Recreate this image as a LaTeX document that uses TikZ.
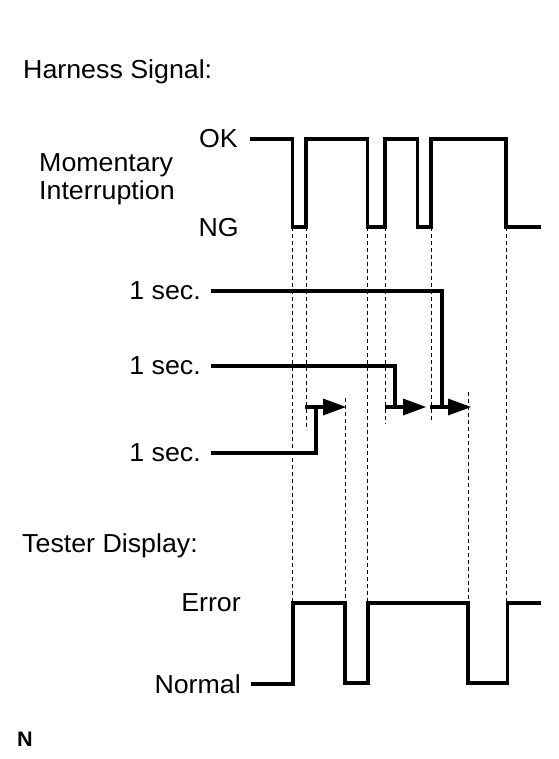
\documentclass[tikz,border=0pt]{standalone}
\usepackage{fontspec}
\setmainfont{Liberation Sans}[FakeStretch=1.03]
\usepackage{tikz}
\usetikzlibrary{arrows.meta,positioning}
\newcommand\lblfont{\fontsize{26}{29}\selectfont}

\begin{document}
\begin{tikzpicture}[x=1pt,y=-1pt,font=\lblfont]
      \tikzstyle{lbl}=[inner sep=0pt]
      \tikzstyle{wave}=[line width=3.5pt]
      \tikzstyle{guide}=[line width=0.8pt,dash pattern=on 4pt off 3pt]
      \tikzstyle{timer}=[line width=3.5pt,-{Triangle[length=23pt,width=17pt,line width=0pt]}]

      \useasboundingbox (0,0) rectangle (558,759);

      \node[lbl,anchor=base west](harness) at (23,79){Harness Signal:};
      \node[lbl,anchor=base west](mom) at (39,172){Momentary};
      \node[lbl,anchor=base west](intr) at (39,200){Interruption};
      \node[lbl,anchor=east](ok) at (238,139){OK};
      \node[lbl,anchor=east](ng) at (239,228){NG};

      \node[lbl,anchor=east](sec1) at (201,291){1 sec.};
      \node[lbl,anchor=east](sec2) at (201,366){1 sec.};
      \node[lbl,anchor=east](sec3) at (201,453){1 sec.};

      \node[lbl,anchor=base west](tester) at (22,552){Tester Display:};
      \node[lbl,anchor=east](err) at (241,603){Error};
      \node[lbl,anchor=east](norm) at (241,684){Normal};

      \node[lbl,anchor=base west,font=\bfseries\fontsize{21}{24}\selectfont](mark) at (17,746){N};

      % harness signal
      \draw[wave] (250,139) -| (292.5,227) -| (306,139) -| (367.5,227) -| (385,139)
        -| (417.5,227) -| (431,139) -| (506,227) -- (541,227);

      % guide lines
      \foreach \x/\ya/\yb in {292.5/227/603, 306/227/430, 367.5/227/603, 385/227/424,
        431/227/423, 506/227/603, 345/398/603, 468/392/603}
        \draw[guide] (\x,\ya) -- (\x,\yb);

      % 1 sec. timers
      \draw[wave] ([xshift=10pt]sec3.east) -| (316,407);
      \draw[timer] (305,407) -- (346,407);
      \draw[wave] ([xshift=10pt]sec2.east) -| (395,407);
      \draw[timer] (385,407) -- (426,407);
      \draw[wave] ([xshift=10pt]sec1.east) -| (442,407);
      \draw[timer] (430,407) -- (471,407);

      % tester display
      \draw[wave] ([xshift=10pt]norm.east) -| (293,603) -| (345,683) -| (368,603) -| (468,683)
        -| (507.5,603) -- (541,603);
\end{tikzpicture}
\end{document}
